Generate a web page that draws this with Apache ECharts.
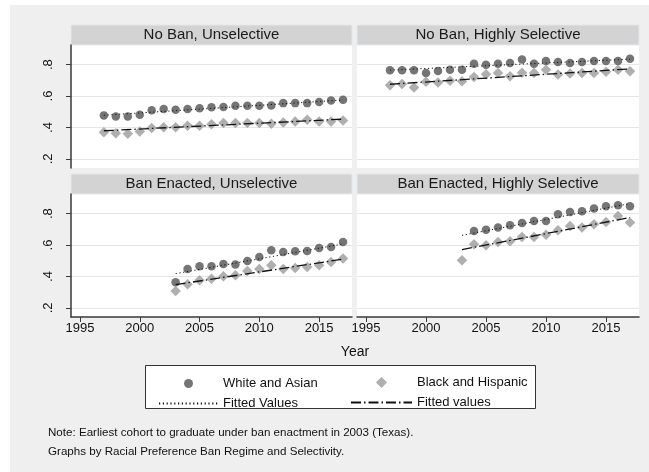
<!DOCTYPE html>
<html>
<head>
<meta charset="utf-8">
<title>Graduation rates by ban regime and selectivity</title>
<script src="https://cdn.jsdelivr.net/npm/echarts@6.0.0/dist/echarts.min.js"></script>
<style>
html, body { margin: 0; padding: 0; background: #fff; }
#chart { width: 649px; height: 472px; }
</style>
</head>
<body>
<div id="chart"></div>
<script>
// cohorts
var yearsAll = [1997, 1998, 1999, 2000, 2001, 2002, 2003, 2004, 2005, 2006, 2007,
                2008, 2009, 2010, 2011, 2012, 2013, 2014, 2015, 2016, 2017];
var yearsBan = [2003, 2004, 2005, 2006, 2007, 2008, 2009, 2010, 2011, 2012, 2013,
                2014, 2015, 2016, 2017];
var fitYearsAll = [1997, 2017];
var fitYearsBan = [2003, 2017];

// No Ban, Unselective
var noBanUnselWhite = [0.477, 0.470, 0.470, 0.481, 0.509, 0.517, 0.513, 0.517, 0.523, 0.528, 0.530,
                       0.538, 0.538, 0.538, 0.540, 0.555, 0.555, 0.555, 0.562, 0.572, 0.577];
var noBanUnselBlack = [0.370, 0.364, 0.360, 0.374, 0.396, 0.402, 0.402, 0.411, 0.411, 0.421, 0.428,
                       0.428, 0.428, 0.428, 0.423, 0.432, 0.438, 0.449, 0.438, 0.438, 0.445];
var noBanUnselFitWhite = [0.478, 0.575];
var noBanUnselFitBlack = [0.379, 0.453];

// No Ban, Highly Selective
var noBanSelWhite = [0.764, 0.764, 0.764, 0.747, 0.760, 0.768, 0.768, 0.806, 0.800, 0.806, 0.811,
                     0.832, 0.806, 0.823, 0.817, 0.811, 0.817, 0.823, 0.823, 0.823, 0.838];
var noBanSelBlack = [0.669, 0.676, 0.655, 0.691, 0.686, 0.697, 0.695, 0.722, 0.739, 0.747, 0.726,
                     0.749, 0.747, 0.768, 0.737, 0.743, 0.747, 0.747, 0.754, 0.768, 0.758];
var noBanSelFitWhite = [0.765, 0.835];
var noBanSelFitBlack = [0.675, 0.773];

// Ban Enacted, Unselective
var banUnselWhite = [0.363, 0.448, 0.465, 0.465, 0.480, 0.476, 0.499, 0.524, 0.567, 0.556, 0.560,
                     0.562, 0.582, 0.588, 0.620];
var banUnselBlack = [0.308, 0.350, 0.376, 0.386, 0.401, 0.408, 0.435, 0.448, 0.471, 0.448, 0.454,
                     0.461, 0.471, 0.492, 0.514];
var banUnselFitWhite = [0.418, 0.607];
var banUnselFitBlack = [0.348, 0.510];

// Ban Enacted, Highly Selective
var banSelWhite = [null, 0.690, 0.698, 0.711, 0.726, 0.741, 0.753, 0.753, 0.796, 0.811, 0.815,
                   0.832, 0.847, 0.853, 0.847];
var banSelBlack = [0.503, 0.605, 0.598, 0.620, 0.624, 0.652, 0.652, 0.666, 0.694, 0.722, 0.711,
                   0.732, 0.747, 0.785, 0.743];
var banSelFitWhite = [0.662, 0.864];
var banSelFitBlack = [0.571, 0.775];

var panelTitles = ['No Ban, Unselective', 'No Ban, Highly Selective',
                   'Ban Enacted, Unselective', 'Ban Enacted, Highly Selective'];
var yTicks = [0.2, 0.4, 0.6, 0.8];
var xTicks = [1995, 2000, 2005, 2010, 2015];

var FONT = '"Liberation Sans", Arial, sans-serif';

function zip(xs, ys) {
  var out = [];
  for (var i = 0; i < xs.length; i++) {
    if (ys[i] != null) out.push([xs[i], ys[i]]);
  }
  return out;
}

var panels = [
  { years: yearsAll, fitYears: fitYearsAll, white: noBanUnselWhite, black: noBanUnselBlack, fitW: noBanUnselFitWhite, fitB: noBanUnselFitBlack },
  { years: yearsAll, fitYears: fitYearsAll, white: noBanSelWhite, black: noBanSelBlack, fitW: noBanSelFitWhite, fitB: noBanSelFitBlack },
  { years: yearsBan, fitYears: fitYearsBan, white: banUnselWhite, black: banUnselBlack, fitW: banUnselFitWhite, fitB: banUnselFitBlack },
  { years: yearsBan, fitYears: fitYearsBan, white: banSelWhite, black: banSelBlack, fitW: banSelFitWhite, fitB: banSelFitBlack }
];

var grids = [
  { left: 71, top: 45, width: 281, height: 123 },
  { left: 357, top: 45, width: 282, height: 123 },
  { left: 71, top: 194, width: 281, height: 123 },
  { left: 357, top: 194, width: 282, height: 123 }
];

var xAxes = [], yAxes = [], series = [], graphics = [];

// grey outer area
graphics.push({ type: 'rect', z: -100, shape: { x: 10, y: 5, width: 639, height: 467 }, style: { fill: '#efefef' } });

grids.forEach(function (g, i) {
  g.show = true;
  g.backgroundColor = '#fff';
  g.borderWidth = 0;
  var bottomRow = i >= 2, leftCol = i % 2 === 0;

  xAxes.push({
    type: 'value', gridIndex: i, min: 1994.25, max: 2017.75,
    show: bottomRow,
    axisLine: { show: true, onZero: false, lineStyle: { color: '#3a3a3a', width: 1.5 } },
    axisTick: { show: true, length: 5, customValues: xTicks, lineStyle: { color: '#3a3a3a' } },
    axisLabel: {
      customValues: xTicks, margin: 5, color: '#111', fontSize: 13, fontFamily: FONT,
      formatter: function (v) { return String(v); }
    },
    splitLine: { show: false }
  });

  yAxes.push({
    type: 'value', gridIndex: i, min: 0.142, max: 0.925,
    axisLine: { show: leftCol, onZero: false, lineStyle: { color: '#3a3a3a', width: 1.5 } },
    axisTick: { show: leftCol, length: 5, customValues: yTicks, lineStyle: { color: '#3a3a3a' } },
    axisLabel: {
      show: leftCol, customValues: yTicks, rotate: 90, margin: 16,
      color: '#111', fontSize: 13, fontFamily: FONT,
      formatter: function (v) { return String(+v.toFixed(1)).replace(/^0/, ''); }
    },
    splitLine: { show: true, lineStyle: { color: '#e6e6e6', width: 1 } }
  });

  var p = panels[i];
  series.push({
    name: 'White and Asian', type: 'scatter', xAxisIndex: i, yAxisIndex: i,
    symbol: 'circle', symbolSize: 8.5,
    itemStyle: { color: '#525252' }, z: 2,
    data: zip(p.years, p.white)
  });
  series.push({
    name: 'Black and Hispanic', type: 'scatter', xAxisIndex: i, yAxisIndex: i,
    symbol: 'diamond', symbolSize: 10.5,
    itemStyle: { color: '#9b9b9b' }, z: 3,
    data: zip(p.years, p.black)
  });
  series.push({
    name: 'Fitted Values', type: 'line', xAxisIndex: i, yAxisIndex: i,
    symbol: 'none', silent: true, z: 4,
    itemStyle: { color: 'rgba(0,0,0,0)', borderWidth: 0 },
    lineStyle: { color: '#111', width: 1, type: [1.2, 2.6] },
    data: zip(p.fitYears, p.fitW)
  });
  series.push({
    name: 'Fitted values', type: 'line', xAxisIndex: i, yAxisIndex: i,
    symbol: 'none', silent: true, z: 4,
    itemStyle: { color: 'rgba(0,0,0,0)', borderWidth: 0 },
    lineStyle: { color: '#111', width: 1.3, type: [10, 3, 1.5, 3] },
    data: zip(p.fitYears, p.fitB)
  });

  // panel header strip
  graphics.push({
    type: 'rect', shape: { x: g.left, y: g.top - 20, width: g.width, height: 20 },
    style: { fill: '#d3d3d3', stroke: '#e3e8ee', lineWidth: 1 }
  });
  graphics.push({
    type: 'text', x: g.left + g.width / 2, y: g.top - 10,
    style: { text: panelTitles[i], fill: '#1a1a1a', font: '15px ' + FONT, textAlign: 'center', textVerticalAlign: 'middle' }
  });
});

// x axis title
graphics.push({
  type: 'text', x: 355, y: 352,
  style: { text: 'Year', fill: '#111', font: '14px ' + FONT, textAlign: 'center', textVerticalAlign: 'middle' }
});

// legend box
graphics.push({
  type: 'rect', shape: { x: 145.5, y: 365.5, width: 390, height: 43 },
  style: { fill: '#fff', stroke: '#333', lineWidth: 1 }
});

// notes
graphics.push({
  type: 'text', x: 48, y: 433,
  style: { text: 'Note: Earliest cohort to graduate under ban enactment in 2003 (Texas).', fill: '#111', font: '11.6px ' + FONT, textVerticalAlign: 'middle' }
});
graphics.push({
  type: 'text', x: 48, y: 452,
  style: { text: 'Graphs by Racial Preference Ban Regime and Selectivity.', fill: '#111', font: '11.6px ' + FONT, textVerticalAlign: 'middle' }
});

var legendText = { color: '#111', fontSize: 13, fontFamily: FONT };

var chart = echarts.init(document.getElementById('chart'));
chart.setOption({
  backgroundColor: '#fff',
  animation: false,
  grid: grids,
  xAxis: xAxes,
  yAxis: yAxes,
  series: series,
  graphic: graphics,
  legend: [
    {
      orient: 'vertical', left: 153, top: 372,
      data: ['White and Asian', 'Fitted Values'],
      itemWidth: 59, itemHeight: 9, itemGap: 7, symbolKeepAspect: true,
      textStyle: legendText, selectedMode: false
    },
    {
      orient: 'vertical', left: 345, top: 371,
      data: [
        { name: 'Black and Hispanic', icon: 'path://M0,-1L1,0L0,1L-1,0Z' },
        'Fitted values'
      ],
      itemWidth: 61, itemHeight: 11, itemGap: 7, symbolKeepAspect: true,
      textStyle: legendText, selectedMode: false
    }
  ]
});
</script>
</body>
</html>
